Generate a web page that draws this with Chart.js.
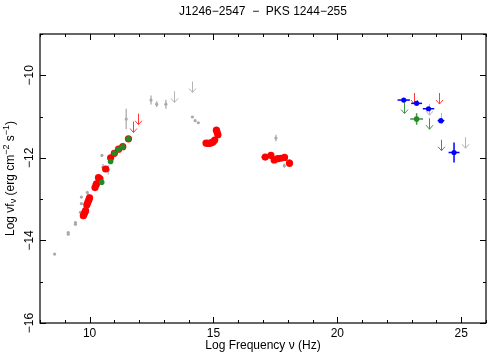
<!DOCTYPE html>
<html>
<head>
<meta charset="utf-8">
<script src="https://cdn.jsdelivr.net/npm/chart.js@4.4.1/dist/chart.umd.min.js"></script>
<style>
  html, body { margin: 0; padding: 0; background: #fff; }
  #wrap { width: 490px; height: 354px; }
</style>
</head>
<body>
<div id="wrap"><canvas id="sed"></canvas></div>
<script>
const FONT = "'Liberation Sans', Arial, Helvetica, sans-serif";

// ─── Axis labels ──────────────────────────────────────
const xTickLabels = [10, 15, 20, 25];
const yTickLabels = [-10, -12, -14, -16];

// ─── Archival data (grey) ─────────────────────────────
const greyX    = [8.59, 9.14, 9.14, 9.43, 9.43, 9.63, 9.67, 9.67, 9.91, 9.95, 10.50, 10.54, 10.76, 11.48, 12.48, 12.71, 13.08, 14.15, 14.26, 14.39, 17.52, 17.86];
const greyY    = [-14.33, -13.81, -13.85, -13.57, -13.61, -13.32, -13.11, -12.95, -12.84, -12.90, -11.94, -12.23, -12.29, -11.06, -10.60, -10.70, -10.70, -11.01, -11.10, -11.15, -11.52, -12.19];
const greyYErr = [0, 0, 0, 0, 0, 0, 0, 0, 0.04, 0, 0, 0.08, 0.11, 0.25, 0.11, 0.07, 0.11, 0, 0, 0, 0.08, 0.05];

const greyLimX = [13.41, 14.15, 23.68, 24.18, 25.16];
const greyLimY = [-10.39, -10.15, -10.70, -10.91, -11.50];

// ─── Radio / optical / X-ray (red) ────────────────────
const redX    = [9.75, 9.78, 9.81, 9.84, 9.89, 9.93, 9.97, 10.00, 10.22, 10.26, 10.28, 10.36, 10.42, 10.65, 10.85, 11.00, 11.17, 11.34, 11.57,
                 14.70, 14.76, 14.82, 14.88, 14.94, 14.99, 15.05, 15.12, 15.15, 15.18,
                 17.09, 17.32, 17.45, 17.59, 17.72, 17.87, 18.07];
const redY    = [-13.40, -13.36, -13.32, -13.28, -13.14, -13.08, -13.02, -12.97, -12.72, -12.66, -12.63, -12.48, -12.51, -12.27, -12.00, -11.89, -11.79, -11.73, -11.54,
                 -11.64, -11.65, -11.65, -11.64, -11.63, -11.61, -11.57, -11.33, -11.38, -11.44,
                 -11.98, -11.94, -12.05, -12.02, -12.01, -11.99, -12.13];
const redXErr = [0, 0, 0, 0, 0, 0, 0, 0, 0, 0, 0, 0, 0, 0, 0, 0, 0, 0, 0,
                 0, 0, 0, 0, 0, 0, 0, 0, 0, 0,
                 0.15, 0.05, 0.05, 0.05, 0.05, 0.05, 0];
const redYErr = [0, 0, 0, 0, 0, 0, 0, 0, 0, 0, 0, 0, 0, 0, 0, 0, 0, 0, 0,
                 0, 0, 0, 0, 0, 0, 0, 0, 0, 0,
                 0, 0.04, 0.04, 0.04, 0.04, 0.04, 0.09];

const redLimX = [11.74, 11.94, 23.11, 24.11];
const redLimY = [-11.12, -10.93, -10.43, -10.43];

// ─── Green ────────────────────────────────────────────
const greenX    = [10.49, 10.85, 11.00, 11.17, 11.34, 11.57, 23.20];
const greenY    = [-12.59, -12.09, -11.89, -11.79, -11.73, -11.54, -11.06];
const greenXErr = [0, 0, 0, 0, 0, 0, 0.26];
const greenYErr = [0, 0, 0, 0, 0, 0, 0.14];

const greenLimX = [22.68, 23.70, 24.18];
const greenLimY = [-10.66, -11.04, -11.56];

// ─── Gamma-ray (blue) ─────────────────────────────────
const blueX    = [22.68, 23.20, 23.68, 24.18, 24.71];
const blueY    = [-10.60, -10.68, -10.81, -11.10, -11.87];
const blueXErr = [0.25, 0.22, 0.23, 0.13, 0.22];
const blueYErr = [0, 0, 0, 0, 0.24];

// ─── Helpers ──────────────────────────────────────────

function pts(xs, ys) {
    return xs.map((x, i) => ({ x, y: ys[i] }));
}

// `order`: lower numbers are painted on top
function pointSet(label, order, xs, ys, color, radius, xErr, yErr, barColor) {
    return {
        label,
        order,
        data: pts(xs, ys),
        backgroundColor: color,
        borderColor: color,
        borderWidth: 0,
        pointRadius: radius,
        xErr, yErr,
        barColor: barColor || color,
    };
}

function limitSet(label, order, xs, ys, color) {
    return {
        label,
        order,
        data: pts(xs, ys),
        pointRadius: 0,
        limit: true,
        arrowColor: color,
    };
}

// error bars + upper-limit arrows, placed through the chart scales
const marks = {
    id: 'marks',
    beforeDatasetsDraw(chart) {
        const { ctx, scales: { x, y } } = chart;
        ctx.save();
        chart.data.datasets.forEach(ds => {
            ds.data.forEach((p, i) => {
                const px = x.getPixelForValue(p.x);
                const py = y.getPixelForValue(p.y);
                if (ds.limit) {
                    const tip = py + 11;
                    const cx = Math.round(px) + 0.5;
                    ctx.strokeStyle = ds.arrowColor;
                    ctx.lineWidth = 1;
                    ctx.beginPath();
                    ctx.moveTo(cx, py);
                    ctx.lineTo(cx, tip);
                    ctx.moveTo(cx - 3.5, tip - 4);
                    ctx.lineTo(cx, tip);
                    ctx.lineTo(cx + 3.5, tip - 4);
                    ctx.stroke();
                    return;
                }
                ctx.strokeStyle = ds.barColor;
                ctx.lineWidth = 1.5;
                const ex = ds.xErr ? ds.xErr[i] : 0;
                const ey = ds.yErr ? ds.yErr[i] : 0;
                ctx.beginPath();
                if (ex) {
                    ctx.moveTo(x.getPixelForValue(p.x - ex), py);
                    ctx.lineTo(x.getPixelForValue(p.x + ex), py);
                }
                if (ey) {
                    ctx.moveTo(px, y.getPixelForValue(p.y + ey));
                    ctx.lineTo(px, y.getPixelForValue(p.y - ey));
                }
                ctx.stroke();
            });
        });
        ctx.restore();
    },
};

function drawParts(ctx, parts, cx, cy) {
    const widths = parts.map(p => { ctx.font = p.font; return ctx.measureText(p.t).width; });
    let pos = cx - widths.reduce((a, b) => a + b, 0) / 2;
    parts.forEach((p, i) => {
        ctx.font = p.font;
        ctx.fillText(p.t, pos, cy + (p.dy || 0));
        pos += widths[i];
    });
}

// frame with inward ticks on all sides, rotated y labels, titles
const frame = {
    id: 'frame',
    afterDraw(chart) {
        const { ctx, chartArea: a, scales: { x, y } } = chart;
        ctx.save();
        ctx.strokeStyle = '#000';
        ctx.lineWidth = 1.2;
        ctx.strokeRect(a.left, a.top, a.right - a.left, a.bottom - a.top);
        ctx.lineWidth = 1;
        ctx.beginPath();
        x.ticks.forEach(t => {
            const px = Math.round(x.getPixelForValue(t.value)) + 0.5;
            const len = xTickLabels.includes(t.value) ? 6 : 3;
            ctx.moveTo(px, a.bottom); ctx.lineTo(px, a.bottom - len);
            ctx.moveTo(px, a.top);    ctx.lineTo(px, a.top + len);
        });
        y.ticks.forEach(t => {
            const py = Math.round(y.getPixelForValue(t.value)) + 0.5;
            const len = yTickLabels.includes(t.value) ? 6 : 3;
            ctx.moveTo(a.left, py);  ctx.lineTo(a.left + len, py);
            ctx.moveTo(a.right, py); ctx.lineTo(a.right - len, py);
        });
        ctx.stroke();

        ctx.fillStyle = '#000';
        ctx.textBaseline = 'middle';
        ctx.textAlign = 'center';
        ctx.font = `12px ${FONT}`;
        // rotated y tick labels
        yTickLabels.forEach(v => {
            const py = y.getPixelForValue(v);
            ctx.save();
            ctx.translate(30, py);
            ctx.rotate(-Math.PI / 2);
            ctx.fillText(String(v).replace('-', '\u2212'), 0, 0);
            ctx.restore();
        });

        // title over plot area
        ctx.fillText('J1246\u22122547  \u2212  PKS 1244\u2212255', (a.left + a.right) / 2, 12);

        // y axis title with sub/superscripts
        ctx.save();
        ctx.translate(11, (a.top + a.bottom) / 2);
        ctx.rotate(-Math.PI / 2);
        ctx.textAlign = 'left';
        const n = `12px ${FONT}`, s = `9px ${FONT}`;
        drawParts(ctx, [
            { t: 'Log \u03bdf', font: n },
            { t: '\u03bd', font: s, dy: 3 },
            { t: ' (erg cm', font: n },
            { t: '\u22122', font: s, dy: -4 },
            { t: ' s', font: n },
            { t: '\u22121', font: s, dy: -4 },
            { t: ')', font: n },
        ], 0, 0);
        ctx.restore();
        ctx.restore();
    },
};

const datasets = [
    limitSet('grey limits', 9, greyLimX, greyLimY, '#b4b4b4'),
    limitSet('red limits', 8, redLimX, redLimY, '#ff3a3a'),
    limitSet('green limits', 7, greenLimX, greenLimY, '#3f983f'),
    pointSet('archival', 6, greyX, greyY, '#a9a9a9', 1.6, null, greyYErr, '#b8b8b8'),
    pointSet('red', 5, redX, redY, '#ff0000', 3.6, redXErr, redYErr),
    pointSet('green', 4, greenX, greenY, '#238b23', 2.8, greenXErr, greenYErr, '#3f983f'),
    pointSet('gamma', 3, blueX, blueY, '#0000ff', 2.6, blueXErr, blueYErr),
];

new Chart(document.getElementById('sed'), {
    type: 'scatter',
    data: { datasets },
    options: {
        responsive: true,
        maintainAspectRatio: false,
        animation: false,
        events: [],
        layout: { padding: { top: 34, right: 1, left: 0, bottom: 0 } },
        plugins: {
            legend: { display: false },
            tooltip: { enabled: false },
        },
        scales: {
            x: {
                type: 'linear',
                min: 8, max: 26,
                grid: { display: false, drawTicks: false },
                border: { display: false },
                ticks: {
                    stepSize: 1,
                    autoSkip: false,
                    maxRotation: 0,
                    padding: 3,
                    color: '#000',
                    font: { family: FONT, size: 12 },
                    callback: v => xTickLabels.includes(v) ? String(v) : '',
                },
                title: {
                    display: true,
                    text: 'Log Frequency \u03bd (Hz)',
                    color: '#000',
                    font: { family: FONT, size: 12 },
                    padding: { top: 0, bottom: 1 },
                },
                afterFit: s => { s.height = 31; },
            },
            y: {
                type: 'linear',
                min: -16, max: -9,
                grid: { display: false, drawTicks: false },
                border: { display: false },
                ticks: { stepSize: 1, display: false },
                afterFit: s => { s.width = 40; },
            },
        },
    },
    plugins: [marks, frame],
});
</script>
</body>
</html>
